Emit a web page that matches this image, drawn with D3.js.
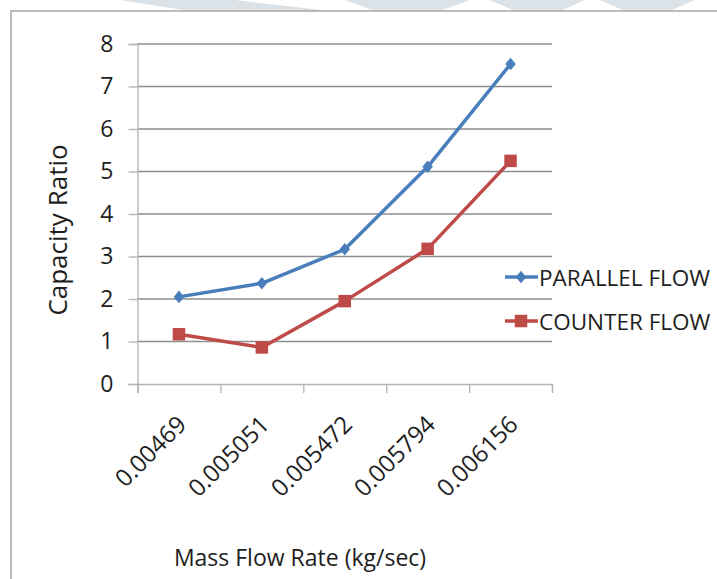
<!DOCTYPE html>
<html>
<head>
<meta charset="utf-8">
<script src="https://cdn.jsdelivr.net/npm/d3@7"></script>
<style>
  html, body { margin: 0; padding: 0; background: #fff; }
  svg { display: block; font-family: "Open Sans", "Noto Sans", sans-serif; }
</style>
</head>
<body>
<svg id="chart" width="717" height="579"></svg>
<script>
// Capacity ratio against mass flow rate for the two flow arrangements
const categories = ["0.00469", "0.005051", "0.005472", "0.005794", "0.006156"];
const parallelFlow = [2.05, 2.37, 3.17, 5.11, 7.53];
const counterFlow = [1.17, 0.86, 1.95, 3.18, 5.25];
const yTicks = [0, 1, 2, 3, 4, 5, 6, 7, 8];
const seriesNames = ["PARALLEL FLOW", "COUNTER FLOW"];

const svg = d3.select("#chart");
const blue = "#4a7ebb", red = "#be4b48", ink = "#1e1e1e";

// faint page decoration above the chart frame
const deco = svg.append("g").attr("fill", "#dbe2e8");
[[120, 190, 235, 330], [345, 375, 470, 440], [490, 515, 585, 560], [600, 625, 695, 670]]
  .forEach(([a, b, c, d]) => {
    deco.append("path").attr("d", `M${a},0 L${c},0 L${d},11 L${b},11 Z`);
  });

// chart frame (left and top edges)
svg.append("path")
  .attr("d", "M11,579 L11,11 L717,11")
  .attr("fill", "none").attr("stroke", "#a6a6a6").attr("stroke-width", 1.5);

const plotL = 137.5, plotR = 552, plotT = 44, plotB = 384;

const x = d3.scaleBand().domain(categories).range([plotL, plotR]);
const xEdges = d3.scaleLinear().domain([0, categories.length]).range([plotL, plotR]);
const y = d3.scaleLinear().domain([0, 8]).range([plotB, plotT]);

// horizontal gridlines
svg.append("g")
  .selectAll("line").data(yTicks.filter(t => t > 0)).join("line")
  .attr("x1", plotL).attr("x2", plotR)
  .attr("y1", d => y(d)).attr("y2", d => y(d))
  .attr("stroke", "#8e8e8e").attr("stroke-width", 1.3);

// y axis
const yAxis = svg.append("g")
  .attr("transform", `translate(${plotL},0)`)
  .call(d3.axisLeft(y).tickValues(yTicks).tickSize(9).tickPadding(15).tickFormat(d3.format("d")));
yAxis.select(".domain").attr("stroke", "#b4b4b4").attr("stroke-width", 1.3);
yAxis.selectAll(".tick line").attr("stroke", "#b4b4b4").attr("stroke-width", 1.3);
yAxis.selectAll("text").attr("font-size", 23).attr("fill", ink)
  .attr("font-family", "'Open Sans', sans-serif");

// x axis: tick marks on category boundaries
const xTicksAxis = svg.append("g")
  .attr("transform", `translate(0,${plotB})`)
  .call(d3.axisBottom(xEdges).tickValues(d3.range(categories.length + 1)).tickSize(9).tickFormat(""));
xTicksAxis.select(".domain").attr("stroke", "#b4b4b4").attr("stroke-width", 1.3);
xTicksAxis.selectAll(".tick line").attr("stroke", "#b4b4b4").attr("stroke-width", 1.3);

// x axis: rotated category labels
const xLabels = svg.append("g")
  .attr("transform", `translate(0,${plotB})`)
  .call(d3.axisBottom(x).tickSize(0).tickPadding(0));
xLabels.select(".domain").remove();
xLabels.selectAll("text")
  .attr("font-size", 24).attr("fill", ink)
  .attr("font-family", "'Open Sans', sans-serif")
  .attr("text-anchor", "end")
  .attr("dy", "0.35em")
  .attr("y", 0)
  .attr("transform", "translate(3,36) rotate(-45)");

// axis titles
svg.append("text")
  .attr("transform", "translate(57,230) rotate(-90)")
  .attr("text-anchor", "middle").attr("dominant-baseline", "central")
  .attr("font-size", 26).attr("fill", ink)
  .text("Capacity Ratio");
svg.append("text")
  .attr("x", 300).attr("y", 557)
  .attr("text-anchor", "middle").attr("dominant-baseline", "central")
  .attr("font-size", 23).attr("fill", ink)
  .text("Mass Flow Rate (kg/sec)");

// rhombus marker a little taller than wide
const rhombus = {
  draw(ctx, size) {
    const w = Math.sqrt(size) * 0.5, h = w * 1.2;
    ctx.moveTo(0, -h); ctx.lineTo(w, 0); ctx.lineTo(0, h); ctx.lineTo(-w, 0); ctx.closePath();
  }
};

// series lines and markers
const cx = c => x(c) + x.bandwidth() / 2;
const line = d3.line().x(d => cx(d.c)).y(d => y(d.v));
const series = [
  { name: seriesNames[0], values: parallelFlow, color: blue, shape: rhombus, size: 110 },
  { name: seriesNames[1], values: counterFlow, color: red, shape: d3.symbolSquare, size: 156 }
];

series.forEach(s => {
  const pts = categories.map((c, i) => ({ c, v: s.values[i] }));
  svg.append("path").datum(pts)
    .attr("d", line).attr("fill", "none")
    .attr("stroke", s.color).attr("stroke-width", 3.5)
    .attr("stroke-linejoin", "round");
  svg.append("g").selectAll("path").data(pts).join("path")
    .attr("d", d3.symbol(s.shape, s.size))
    .attr("transform", d => `translate(${cx(d.c)},${y(d.v)})`)
    .attr("fill", s.color);
});

// legend
const legend = svg.append("g");
series.forEach((s, i) => {
  const ly = 277 + i * 44;
  legend.append("line").attr("x1", 505).attr("x2", 538).attr("y1", ly).attr("y2", ly)
    .attr("stroke", s.color).attr("stroke-width", 3.5);
  legend.append("path").attr("d", d3.symbol(s.shape, s.size))
    .attr("transform", `translate(521,${ly})`).attr("fill", s.color);
  legend.append("text").attr("x", 539).attr("y", ly)
    .attr("dominant-baseline", "central")
    .attr("font-size", 22.5).attr("fill", ink)
    .text(s.name);
});
</script>
</body>
</html>
